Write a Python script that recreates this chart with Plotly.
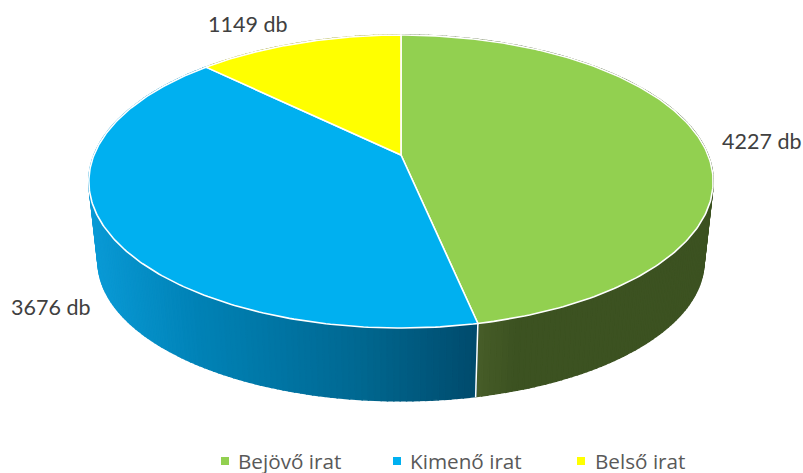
import numpy as np
import plotly.graph_objects as go

# Data
categories = ["Bejövő irat", "Kimenő irat", "Belső irat"]
values = [4227, 3676, 1149]
value_labels = ["4227 db", "3676 db", "1149 db"]

# Styles
top_colors = ["#92D050", "#00B0F0", "#FFFF00"]
side_stops = [
    [(478, (70, 92, 40)), (515, (60, 82, 33)), (710, (60, 82, 33))],
    [(90, (10, 155, 215)), (200, (0, 130, 182)), (360, (0, 104, 145)), (478, (0, 74, 108))],
    [(200, (150, 150, 0)), (400, (150, 150, 0))],
]
label_pos = [(803, 141, "right"), (92, 307, "right"), (289, 24, "right")]
legend_marks = [225, 397, 581]
legend_text = [236, 408, 593]
LEG_Y = 461

# Perspective model of the pie disc
CX, K = 401, 0.181
TOP = dict(R=307, A=141.7, Y=155)
BOT = dict(R=298, A=135, Y=236)


def project(theta, g):
    u, v = np.sin(theta), np.cos(theta)
    d = 1 + K * v
    return CX + g["R"] * u / d, g["Y"] - g["A"] * v / d


def side_color(stops, x):
    xs = [s[0] for s in stops]
    rgb = [np.interp(x, xs, [s[1][i] for s in stops]) for i in range(3)]
    return "rgb(%d,%d,%d)" % tuple(int(round(c)) for c in rgb)


fracs = np.array(values) / sum(values)
edges = np.concatenate([[0], np.cumsum(fracs)]) * 2 * np.pi
fig = go.Figure()


def poly(xs, ys, fill, line=None, width=1):
    fig.add_trace(go.Scatter(
        x=list(xs), y=list(ys), mode="lines", fill="toself", fillcolor=fill,
        line=dict(color=line or fill, width=width), hoverinfo="skip", showlegend=False))


# Side wall strips, far to near
strips = []
for i in range(3):
    n = max(8, int(np.degrees(edges[i + 1] - edges[i]) / 1.0))
    t = np.linspace(edges[i], edges[i + 1], n + 1)
    for a, b in zip(t[:-1], t[1:]):
        strips.append((i, a, b))
strips.sort(key=lambda s: -np.cos((s[1] + s[2]) / 2))
for i, a, b in strips:
    xa, ya = project(a, TOP)
    xb, yb = project(b, TOP)
    xc, yc = project(b, BOT)
    xd, yd = project(a, BOT)
    col = side_color(side_stops[i], (xa + xb + xc + xd) / 4)
    poly([xa, xb, xc, xd, xa], [ya, yb, yc, yd, ya], col, width=1.5)

# White edge between the green and blue walls
x1, y1 = project(edges[1], TOP)
x2, y2 = project(edges[1], BOT)
fig.add_trace(go.Scatter(x=[x1, x2], y=[y1, y2 + 1], mode="lines",
                         line=dict(color="white", width=1.5),
                         hoverinfo="skip", showlegend=False))

# Top faces
for i, name in enumerate(categories):
    t = np.linspace(edges[i], edges[i + 1], 200)
    x, y = project(t, TOP)
    x0, y0 = project(0.0, dict(TOP, R=0, A=0))
    poly(np.r_[x0, x, x0], np.r_[y0, y, y0], top_colors[i], line="white", width=1.6)

annotations = []
for (x, y, anchor), text in zip(label_pos, value_labels):
    annotations.append(dict(x=x, y=y, xref="x", yref="y", text=text, showarrow=False,
                            xanchor=anchor, yanchor="middle",
                            font=dict(family="Lato", size=21.5, color="#404040")))

# Legend
for mx, tx, name, c in zip(legend_marks, legend_text, categories, top_colors):
    fig.add_trace(go.Scatter(x=[mx], y=[LEG_Y], mode="markers", name=name,
                             marker=dict(symbol="square", size=8, color=c),
                             hoverinfo="skip", showlegend=False))
    annotations.append(dict(x=tx, y=LEG_Y, xref="x", yref="y", text=name, showarrow=False,
                            xanchor="left", yanchor="middle",
                            font=dict(family="Open Sans", size=20.7, color="#595959")))

fig.update_layout(
    width=803, height=473, margin=dict(l=0, r=0, t=0, b=0),
    paper_bgcolor="white", plot_bgcolor="white", showlegend=False,
    xaxis=dict(range=[0, 803], visible=False, fixedrange=True),
    yaxis=dict(range=[473, 0], visible=False, fixedrange=True),
    annotations=annotations,
)
fig.write_html("out.html", config={"displayModeBar": False},
               post_script="document.body.style.margin='0';document.documentElement.style.overflow='hidden';")
